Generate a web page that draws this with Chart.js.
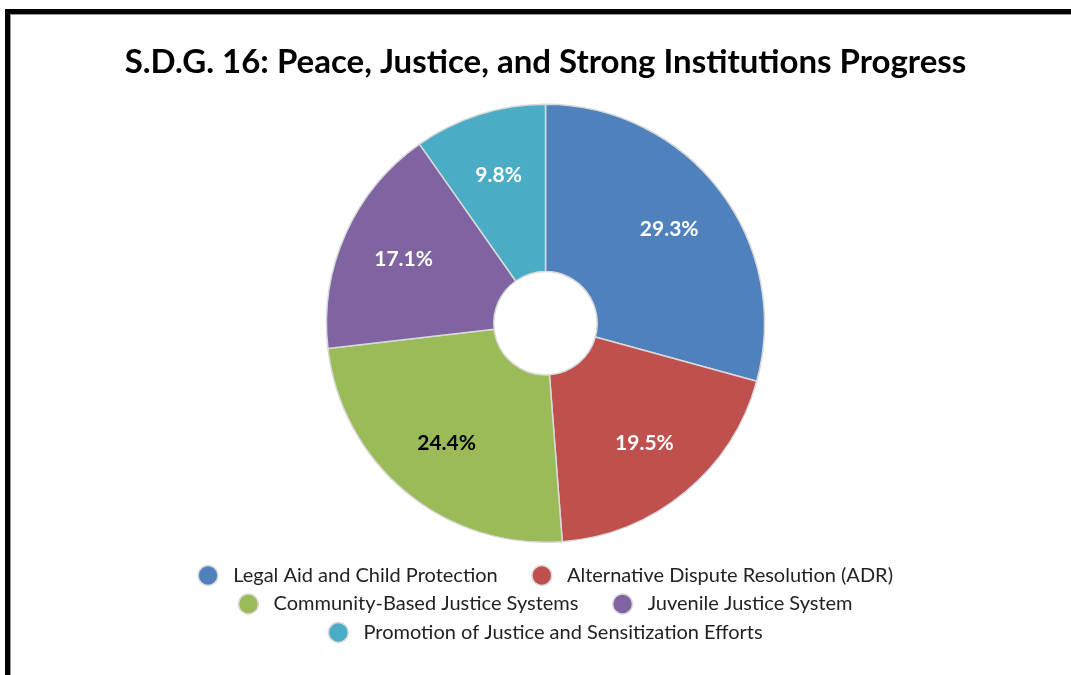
<!DOCTYPE html>
<html>
<head>
<meta charset="utf-8">
<script src="https://cdn.jsdelivr.net/npm/chart.js@4.4.0/dist/chart.umd.min.js"></script>
<style>
  body { margin: 0; background: #fff; overflow: hidden; }
  #frame {
    position: absolute; left: 5px; top: 9px;
    width: 1100px; height: 700px;
    border: 5px solid #000;
    box-shadow: inset 1px 1px 0 #999;
  }
  #sdgChart { position: absolute; left: 0; top: 0; }
</style>
</head>
<body>
<div id="frame"></div>
<canvas id="sdgChart" width="1071" height="675"></canvas>
<script>
// slice categories and counts (percentages shown are count / total)
const categories = [
    'Legal Aid and Child Protection',
    'Alternative Dispute Resolution (ADR)',
    'Community-Based Justice Systems',
    'Juvenile Justice System',
    'Promotion of Justice and Sensitization Efforts'
];
const counts = [12, 8, 10, 7, 4];
const sliceColors = ['#4F81BD', '#C0504D', '#9BBB59', '#8064A2', '#4BACC6'];
const labelColors = ['#fff', '#fff', '#000', '#fff', '#fff'];

const FONT = 'Lato, "Liberation Sans", sans-serif';
const LEGEND_WRAP = 780;   // legend rows wrap at this width
const LEGEND_TAIL = '     '; // extra gap after each legend entry

// draws the percentage in each slice
const pctLabels = {
    id: 'pctLabels',
    afterDatasetsDraw(chart) {
        const ctx = chart.ctx;
        const meta = chart.getDatasetMeta(0);
        const total = counts.reduce((a, b) => a + b, 0);
        ctx.save();
        ctx.font = 'bold 21px ' + FONT;
        ctx.textAlign = 'center';
        ctx.textBaseline = 'middle';
        meta.data.forEach((arc, i) => {
            const p = arc.getProps(['x', 'y', 'startAngle', 'endAngle', 'outerRadius']);
            const mid = (p.startAngle + p.endAngle) / 2;
            const r = p.outerRadius * 0.71;
            ctx.fillStyle = labelColors[i];
            const pct = (counts[i] / total * 100).toFixed(1) + '%';
            ctx.fillText(pct, p.x + Math.cos(mid) * r, p.y + Math.sin(mid) * r);
        });
        ctx.restore();
    }
};

// make the legend wrap narrower than the canvas, like the original
const legendWrap = {
    id: 'legendWrap',
    beforeLayout(chart) {
        const lg = chart.legend;
        if (lg && !lg._wrapped) {
            const orig = lg.update;
            lg.update = function(maxWidth, maxHeight, margins) {
                return orig.call(this, Math.min(maxWidth, LEGEND_WRAP), maxHeight, margins);
            };
            lg._wrapped = true;
        }
    },
    afterLayout(chart) {
        // trailing spaces push rows left, nudge them back
        const lg = chart.legend;
        chart.ctx.save();
        chart.ctx.font = '20px ' + FONT;
        const shift = chart.ctx.measureText(LEGEND_TAIL).width / 2;
        chart.ctx.restore();
        lg.left += shift;
        lg.right += shift;
    }
};

const ctx = document.getElementById('sdgChart').getContext('2d');
const sdgChart = new Chart(ctx, {
    type: 'doughnut',
    data: {
        labels: categories,
        datasets: [{
            data: counts,
            backgroundColor: sliceColors,
            borderColor: '#d9d9d9',
            borderWidth: 1.5,
            hoverOffset: 0,
            radius: 219
        }]
    },
    options: {
        responsive: false,
        animation: false,
        cutout: 55,
        layout: { padding: { top: 43, left: 20, right: 0, bottom: 22.5 } },
        plugins: {
            title: {
                display: true,
                text: 'S.D.G. 16: Peace, Justice, and Strong Institutions Progress',
                color: '#000',
                font: { family: FONT, size: 33, weight: 'bold' },
                padding: { top: 0, bottom: 7 }
            },
            legend: {
                position: 'bottom',
                labels: {
                    usePointStyle: true,
                    pointStyle: 'circle',
                    boxHeight: 14,
                    boxWidth: 20,
                    color: '#222',
                    padding: 8.5,
                    font: { family: FONT, size: 20 },
                    generateLabels(chart) {
                        const items = Chart.overrides.doughnut.plugins.legend.labels.generateLabels(chart);
                        items.forEach(it => { it.text = ' ' + it.text + LEGEND_TAIL; });
                        return items;
                    }
                }
            },
            tooltip: { enabled: false }
        }
    },
    plugins: [pctLabels, legendWrap]
});
</script>
</body>
</html>
